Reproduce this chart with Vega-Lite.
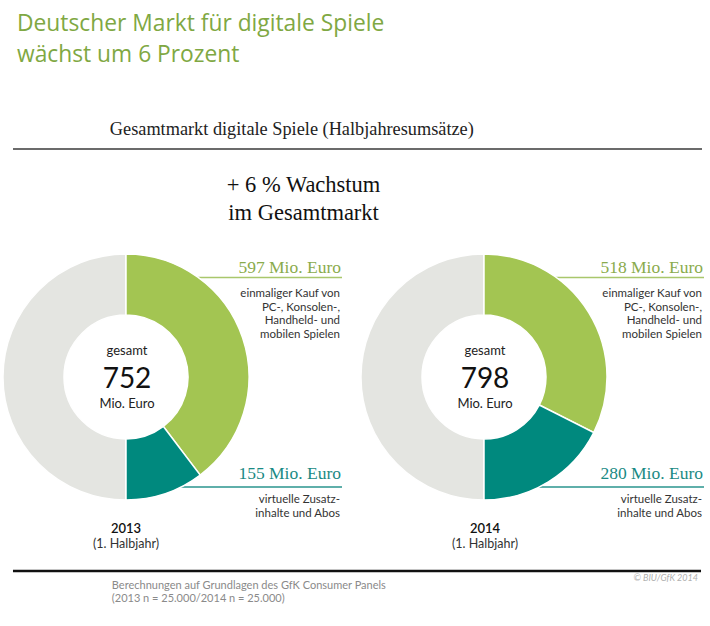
{
  "$schema": "https://vega.github.io/schema/vega-lite/v6.json",
  "width": 710,
  "height": 626,
  "padding": 0,
  "autosize": {"type": "fit", "contains": "padding"},
  "background": "white",
  "config": {"view": {"stroke": null}, "axis": {"disable": true}, "legend": {"disable": true}},
  "datasets": {
    "markt": [
      {"jahr": "2013", "segment": "einmaliger Kauf", "beschreibung": "einmaliger Kauf von\nPC-, Konsolen-,\nHandheld- und\nmobilen Spielen", "umsatz": 597},
      {"jahr": "2013", "segment": "virtuelle Zusatzinhalte", "beschreibung": "virtuelle Zusatz-\ninhalte und Abos", "umsatz": 155},
      {"jahr": "2014", "segment": "einmaliger Kauf", "beschreibung": "einmaliger Kauf von\nPC-, Konsolen-,\nHandheld- und\nmobilen Spielen", "umsatz": 518},
      {"jahr": "2014", "segment": "virtuelle Zusatzinhalte", "beschreibung": "virtuelle Zusatz-\ninhalte und Abos", "umsatz": 280}
    ]
  },
  "resolve": {"scale": {"x": "independent", "y": "independent", "color": "independent"}},
  "layer": [
    {
      "data": {"values": [{}]},
      "mark": {"type": "text", "text": "Deutscher Markt für digitale Spiele\nwächst um 6 Prozent", "lineBreak": "\n", "lineHeight": 31, "font": "Open Sans", "fontSize": 22.8, "color": "#7fa843", "align": "left", "baseline": "alphabetic"},
      "encoding": {
        "x": {"datum": 16, "type": "quantitative", "scale": {"type": "linear", "domain": [0, 710], "nice": false, "zero": false}},
        "y": {"datum": 30.5, "type": "quantitative", "scale": {"type": "linear", "domain": [0, 626], "nice": false, "zero": false, "reverse": true}}
      }
    },
    {
      "data": {"values": [{}]},
      "mark": {"type": "text", "text": "Gesamtmarkt digitale Spiele (Halbjahresumsätze)", "font": "Liberation Serif", "fontSize": 18.3, "color": "#222222", "align": "left", "baseline": "alphabetic"},
      "encoding": {
        "x": {"datum": 109, "type": "quantitative", "scale": {"type": "linear", "domain": [0, 710], "nice": false, "zero": false}},
        "y": {"datum": 135, "type": "quantitative", "scale": {"type": "linear", "domain": [0, 626], "nice": false, "zero": false, "reverse": true}}
      }
    },
    {
      "data": {"values": [{}]},
      "mark": {"type": "rule", "color": "#3a3a3a", "strokeWidth": 1.5},
      "encoding": {
        "x": {"datum": 12, "type": "quantitative", "scale": {"type": "linear", "domain": [0, 710], "nice": false, "zero": false}},
        "x2": {"datum": 702},
        "y": {"datum": 149, "type": "quantitative", "scale": {"type": "linear", "domain": [0, 626], "nice": false, "zero": false, "reverse": true}}
      }
    },
    {
      "data": {"values": [{}]},
      "mark": {"type": "text", "text": "+ 6 % Wachstum\nim Gesamtmarkt", "lineBreak": "\n", "lineHeight": 28, "font": "Liberation Serif", "fontSize": 22.5, "color": "#111111", "align": "center", "baseline": "alphabetic"},
      "encoding": {
        "x": {"datum": 303, "type": "quantitative", "scale": {"type": "linear", "domain": [0, 710], "nice": false, "zero": false}},
        "y": {"datum": 192, "type": "quantitative", "scale": {"type": "linear", "domain": [0, 626], "nice": false, "zero": false, "reverse": true}}
      }
    },
    {
      "data": {"name": "markt"},
      "mark": {"type": "rule", "strokeWidth": 1.4, "x2Offset": -200},
      "encoding": {
        "x": {"field": "jahr", "type": "ordinal", "scale": {"type": "point", "domain": ["2013", "2014"], "range": [341, 703], "padding": 0}},
        "x2": {"field": "jahr"},
        "y": {"field": "segment", "type": "ordinal", "scale": {"type": "point", "domain": ["einmaliger Kauf", "virtuelle Zusatzinhalte"], "range": [277.5, 487], "padding": 0}},
        "color": {"field": "segment", "type": "nominal", "scale": {"domain": ["einmaliger Kauf", "virtuelle Zusatzinhalte"], "range": ["#a9c76c", "#2a948e"]}, "legend": null}
      }
    },
    {
      "data": {"name": "markt"},
      "transform": [{"aggregate": [{"op": "sum", "field": "umsatz", "as": "gesamt"}], "groupby": ["jahr"]}],
      "mark": {"type": "arc", "innerRadius": 62, "outerRadius": 123, "theta": 3.14159265, "theta2": 6.28318531, "color": "#e4e5e1", "stroke": "white", "strokeWidth": 1.5},
      "encoding": {
        "x": {"field": "jahr", "type": "ordinal", "scale": {"type": "point", "domain": ["2013", "2014"], "range": [125, 483], "padding": 0}},
        "y": {"datum": 377, "type": "quantitative", "scale": {"type": "linear", "domain": [0, 626], "nice": false, "zero": false, "reverse": true}}
      }
    },
    {
      "data": {"name": "markt"},
      "transform": [{"stack": "umsatz", "groupby": ["jahr"], "sort": [{"field": "segment", "order": "ascending"}], "offset": "normalize", "as": ["t0", "t1"]}],
      "mark": {"type": "arc", "innerRadius": 62, "outerRadius": 123, "stroke": "white", "strokeWidth": 1.5},
      "encoding": {
        "x": {"field": "jahr", "type": "ordinal", "scale": {"type": "point", "domain": ["2013", "2014"], "range": [125, 483], "padding": 0}},
        "y": {"datum": 377, "type": "quantitative", "scale": {"type": "linear", "domain": [0, 626], "nice": false, "zero": false, "reverse": true}},
        "theta": {"field": "t0", "type": "quantitative", "stack": null, "scale": {"domain": [0, 1], "range": [0, 3.14159265]}},
        "theta2": {"field": "t1"},
        "color": {"field": "segment", "type": "nominal", "scale": {"domain": ["einmaliger Kauf", "virtuelle Zusatzinhalte"], "range": ["#a3c552", "#00897e"]}, "legend": null}
      }
    },
    {
      "data": {"name": "markt"},
      "mark": {"type": "text", "text": {"expr": "datum.umsatz + ' Mio. Euro'"}, "font": "Liberation Serif", "fontSize": 17.5, "align": "right", "baseline": "alphabetic"},
      "encoding": {
        "x": {"field": "jahr", "type": "ordinal", "scale": {"type": "point", "domain": ["2013", "2014"], "range": [340, 702], "padding": 0}},
        "y": {"field": "segment", "type": "ordinal", "scale": {"type": "point", "domain": ["einmaliger Kauf", "virtuelle Zusatzinhalte"], "range": [272.5, 479], "padding": 0}},
        "color": {"field": "segment", "type": "nominal", "scale": {"domain": ["einmaliger Kauf", "virtuelle Zusatzinhalte"], "range": ["#8aab4c", "#1a8a84"]}, "legend": null}
      }
    },
    {
      "data": {"name": "markt"},
      "mark": {"type": "text", "lineBreak": "\n", "lineHeight": 13.5, "font": "Lato", "fontSize": 11.5, "color": "#333333", "align": "right", "baseline": "alphabetic"},
      "encoding": {
        "x": {"field": "jahr", "type": "ordinal", "scale": {"type": "point", "domain": ["2013", "2014"], "range": [339, 701], "padding": 0}},
        "y": {"field": "segment", "type": "ordinal", "scale": {"type": "point", "domain": ["einmaliger Kauf", "virtuelle Zusatzinhalte"], "range": [297, 503], "padding": 0}},
        "text": {"field": "beschreibung", "type": "nominal"}
      }
    },
    {
      "data": {"name": "markt"},
      "transform": [{"aggregate": [{"op": "sum", "field": "umsatz", "as": "gesamt"}], "groupby": ["jahr"]}],
      "mark": {"type": "text", "text": "gesamt", "font": "Lato", "fontSize": 13, "color": "#222222", "align": "center", "baseline": "alphabetic"},
      "encoding": {
        "x": {"field": "jahr", "type": "ordinal", "scale": {"type": "point", "domain": ["2013", "2014"], "range": [126, 484], "padding": 0}},
        "y": {"datum": 355, "type": "quantitative", "scale": {"type": "linear", "domain": [0, 626], "nice": false, "zero": false, "reverse": true}}
      }
    },
    {
      "data": {"name": "markt"},
      "transform": [{"aggregate": [{"op": "sum", "field": "umsatz", "as": "gesamt"}], "groupby": ["jahr"]}],
      "mark": {"type": "text", "font": "Lato", "fontSize": 28, "color": "#111111", "align": "center", "baseline": "alphabetic"},
      "encoding": {
        "x": {"field": "jahr", "type": "ordinal", "scale": {"type": "point", "domain": ["2013", "2014"], "range": [126, 484], "padding": 0}},
        "y": {"datum": 388, "type": "quantitative", "scale": {"type": "linear", "domain": [0, 626], "nice": false, "zero": false, "reverse": true}},
        "text": {"field": "gesamt", "type": "quantitative"}
      }
    },
    {
      "data": {"name": "markt"},
      "transform": [{"aggregate": [{"op": "sum", "field": "umsatz", "as": "gesamt"}], "groupby": ["jahr"]}],
      "mark": {"type": "text", "text": "Mio. Euro", "font": "Lato", "fontSize": 13, "color": "#222222", "align": "center", "baseline": "alphabetic"},
      "encoding": {
        "x": {"field": "jahr", "type": "ordinal", "scale": {"type": "point", "domain": ["2013", "2014"], "range": [126, 484], "padding": 0}},
        "y": {"datum": 407.5, "type": "quantitative", "scale": {"type": "linear", "domain": [0, 626], "nice": false, "zero": false, "reverse": true}}
      }
    },
    {
      "data": {"name": "markt"},
      "transform": [{"aggregate": [{"op": "sum", "field": "umsatz", "as": "gesamt"}], "groupby": ["jahr"]}],
      "mark": {"type": "text", "font": "Lato", "fontSize": 13, "fontWeight": 600, "color": "#111111", "align": "center", "baseline": "alphabetic"},
      "encoding": {
        "x": {"field": "jahr", "type": "ordinal", "scale": {"type": "point", "domain": ["2013", "2014"], "range": [125, 484], "padding": 0}},
        "y": {"datum": 533, "type": "quantitative", "scale": {"type": "linear", "domain": [0, 626], "nice": false, "zero": false, "reverse": true}},
        "text": {"field": "jahr", "type": "nominal"}
      }
    },
    {
      "data": {"name": "markt"},
      "transform": [{"aggregate": [{"op": "sum", "field": "umsatz", "as": "gesamt"}], "groupby": ["jahr"]}],
      "mark": {"type": "text", "text": "(1. Halbjahr)", "font": "Lato", "fontSize": 12.5, "color": "#333333", "align": "center", "baseline": "alphabetic"},
      "encoding": {
        "x": {"field": "jahr", "type": "ordinal", "scale": {"type": "point", "domain": ["2013", "2014"], "range": [125, 484], "padding": 0}},
        "y": {"datum": 548, "type": "quantitative", "scale": {"type": "linear", "domain": [0, 626], "nice": false, "zero": false, "reverse": true}}
      }
    },
    {
      "data": {"values": [{}]},
      "mark": {"type": "rule", "color": "#111111", "strokeWidth": 2.5},
      "encoding": {
        "x": {"datum": 12, "type": "quantitative", "scale": {"type": "linear", "domain": [0, 710], "nice": false, "zero": false}},
        "x2": {"datum": 701},
        "y": {"datum": 571, "type": "quantitative", "scale": {"type": "linear", "domain": [0, 626], "nice": false, "zero": false, "reverse": true}}
      }
    },
    {
      "data": {"values": [{}]},
      "mark": {"type": "text", "text": "Berechnungen auf Grundlagen des GfK Consumer Panels\n(2013 n = 25.000/2014 n = 25.000)", "lineBreak": "\n", "lineHeight": 12.5, "font": "Lato", "fontSize": 11, "color": "#8a8a8a", "align": "left", "baseline": "alphabetic"},
      "encoding": {
        "x": {"datum": 111, "type": "quantitative", "scale": {"type": "linear", "domain": [0, 710], "nice": false, "zero": false}},
        "y": {"datum": 589, "type": "quantitative", "scale": {"type": "linear", "domain": [0, 626], "nice": false, "zero": false, "reverse": true}}
      }
    },
    {
      "data": {"values": [{}]},
      "mark": {"type": "text", "text": "© BIU/GfK 2014", "font": "Lato", "fontSize": 9, "fontStyle": "italic", "color": "#b0b0b0", "align": "right", "baseline": "alphabetic"},
      "encoding": {
        "x": {"datum": 698, "type": "quantitative", "scale": {"type": "linear", "domain": [0, 710], "nice": false, "zero": false}},
        "y": {"datum": 581, "type": "quantitative", "scale": {"type": "linear", "domain": [0, 626], "nice": false, "zero": false, "reverse": true}}
      }
    }
  ]
}
